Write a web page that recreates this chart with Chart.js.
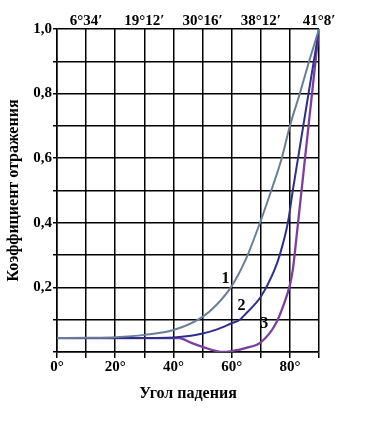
<!DOCTYPE html>
<html>
<head>
<meta charset="utf-8">
<script src="https://cdn.jsdelivr.net/npm/chart.js@4"></script>
<style>
  html, body { margin: 0; padding: 0; background: #fff; }
  #wrap { width: 377px; height: 430px; }
</style>
</head>
<body>
<div id="wrap"><canvas id="reflChart" width="377" height="430"></canvas></div>
<script>
// Curve 1
const angles1 = [0, 10, 20, 30, 40, 50, 55, 60, 65, 70, 73.6, 77.2, 80, 83.4, 86.6, 90];
const refl1 = [0.043, 0.044, 0.046, 0.053, 0.068, 0.109, 0.148, 0.204, 0.29, 0.407, 0.5, 0.6, 0.7, 0.8, 0.9, 1.0];
// Curve 2
const angles2 = [0, 20, 40, 46, 50, 55, 60, 62.8, 65, 70, 74.7, 76.5, 79.3, 81, 82.8, 84.6, 86.4, 88.2, 90];
const refl2 = [0.043, 0.043, 0.045, 0.05, 0.057, 0.07, 0.089, 0.1, 0.12, 0.171, 0.254, 0.3, 0.4, 0.5, 0.6, 0.7, 0.8, 0.9, 1.0];
// Curve 3
const angles3 = [0, 20, 42, 46, 50, 57, 60, 65, 70, 75, 78, 80, 81, 81.6, 82.8, 84, 85.2, 86.4, 87.6, 88.8, 90];
const refl3 = [0.043, 0.043, 0.043, 0.029, 0.016, 0.0, 0.003, 0.013, 0.03, 0.085, 0.15, 0.207, 0.254, 0.3, 0.4, 0.5, 0.6, 0.7, 0.8, 0.9, 1.0];

// bottom and top axis ticks
const bottomTicks = [0, 20, 40, 60, 80];
const topTickValues = [10, 30, 50, 70, 90];
const topTickLabels = ["6°34′", "19°12′", "30°16′", "38°12′", "41°8′"];
const yTickLabels = { 2: "0,2", 4: "0,4", 6: "0,6", 8: "0,8", 10: "1,0" };

// curve number labels (data coords)
const curveNames = ["1", "2", "3"];
const nameAngles = [57.9, 63.4, 71.2];
const nameRefl = [0.226, 0.143, 0.086];

const pts = (xs, ys) => xs.map((x, i) => ({ x: x, y: ys[i] }));

const FONT = { family: "'Liberation Serif', 'Times New Roman', serif", size: 15, weight: "bold" };

const curveLabels = {
  id: "curveLabels",
  afterDatasetsDraw(chart) {
    const { ctx, scales } = chart;
    ctx.save();
    ctx.font = "bold 16px 'Liberation Serif', serif";
    ctx.fillStyle = "#000";
    ctx.textAlign = "center";
    ctx.textBaseline = "middle";
    curveNames.forEach((n, i) => {
      ctx.fillText(n, scales.x.getPixelForValue(nameAngles[i]), scales.y.getPixelForValue(nameRefl[i]));
    });
    ctx.restore();
  }
};

new Chart(document.getElementById("reflChart").getContext("2d"), {
  type: "line",
  data: {
    datasets: [
      { data: pts(angles1, refl1), borderColor: "#6b7e97", borderWidth: 2, order: 1 },
      { data: pts(angles2, refl2), borderColor: "#2e2e8c", borderWidth: 2, order: 2 },
      { data: pts(angles3, refl3), borderColor: "#7b3f9e", borderWidth: 2.3, order: 3 },
    ],
  },
  options: {
    responsive: false,
    animation: false,
    layout: { padding: { left: 0, right: 58, top: 0, bottom: 23 } },
    elements: {
      point: { radius: 0 },
      line: { cubicInterpolationMode: "monotone", fill: false },
    },
    plugins: { legend: { display: false }, tooltip: { enabled: false } },
    scales: {
      x: {
        type: "linear",
        position: "bottom",
        min: 0,
        max: 90,
        afterFit: (s) => { s.height = 55; },
        afterBuildTicks: (s) => { s.ticks = [0, 10, 20, 30, 40, 50, 60, 70, 80, 90].map(v => ({ value: v })); },
        ticks: {
          color: "#000",
          font: FONT,
          padding: 0,
          maxRotation: 0,
          autoSkip: false,
          callback: (v) => bottomTicks.includes(v) ? v + "°" : "",
        },
        grid: { color: "#000", lineWidth: 1.5, tickLength: 6 },
        border: { color: "#000", width: 1.5 },
        title: { display: true, text: "Угол падения", color: "#000", font: { ...FONT, size: 16 }, padding: 4 },
      },
      x2: {
        type: "linear",
        position: "top",
        min: 0,
        max: 90,
        afterFit: (s) => { s.height = 29; },
        afterBuildTicks: (s) => { s.ticks = topTickValues.map(v => ({ value: v })); },
        ticks: {
          color: "#000",
          font: FONT,
          padding: -9,
          maxRotation: 0,
          autoSkip: false,
          callback: (v) => topTickLabels[topTickValues.indexOf(v)],
        },
        grid: { display: false },
        border: { display: false },
      },
      y: {
        min: 0,
        max: 1,
        afterFit: (s) => { s.width = 57; },
        afterBuildTicks: (s) => { s.ticks = [0, 1, 2, 3, 4, 5, 6, 7, 8, 9, 10].map(v => ({ value: v / 10 })); },
        ticks: {
          color: "#000",
          font: FONT,
          padding: 1,
          autoSkip: false,
          callback: (v) => yTickLabels[Math.round(v * 10)] || "",
        },
        grid: { color: "#000", lineWidth: 1.5, tickLength: 4 },
        border: { color: "#000", width: 1.5 },
        title: { display: true, text: "Коэффициент отражения", color: "#000", font: { ...FONT, size: 16 }, padding: 4 },
      },
    },
  },
  plugins: [curveLabels],
});
</script>
</body>
</html>
